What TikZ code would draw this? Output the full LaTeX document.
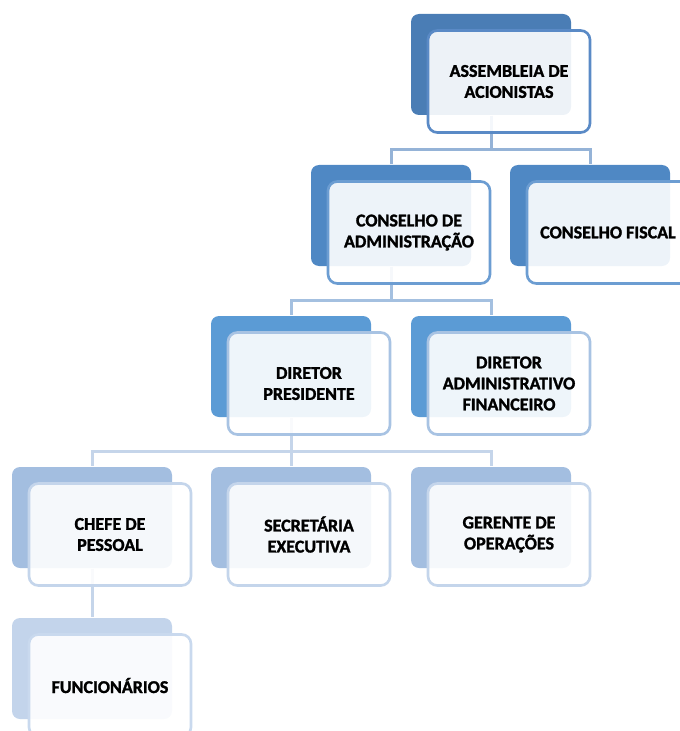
\documentclass[tikz,border=0pt]{standalone}
\usepackage{fontspec}
\setmainfont{Carlito}[BoldFont={Carlito Bold}, BoldFeatures={FakeBold=1.5}]
\usepackage{tikz}

\definecolor{backA}{HTML}{4A7DB5}
\definecolor{backB}{HTML}{4F88C4}
\definecolor{backC}{HTML}{5B9BD5}
\definecolor{backD}{HTML}{A3BEE0}
\definecolor{backE}{HTML}{C3D4EB}
\definecolor{lineA}{HTML}{5A8AC6}
\definecolor{lineB}{HTML}{6C9DD2}
\definecolor{lineC}{HTML}{A8C3E3}
\definecolor{lineD}{HTML}{C4D5EB}
\definecolor{lineE}{HTML}{C9D9EE}
\definecolor{linkA}{HTML}{95B3D7}
\definecolor{linkB}{HTML}{A4C0E0}
\definecolor{linkC}{HTML}{C5D5EA}

\tikzset{
every picture/.style={
line width=1pt
}}

\begin{document}
\begin{tikzpicture}[x=0.75pt, y=-0.75pt,
back/.style = {rectangle, rounded corners=6pt, minimum width=120pt, minimum height=75.75pt, inner sep=0pt},
front/.style = {rectangle, rounded corners=7pt, draw, line width=2pt, fill=white, fill opacity=0.9, text opacity=1, minimum width=121.5pt, minimum height=76.5pt, inner sep=0pt, align=center, font=\bfseries\fontsize{13.5}{15.75}\selectfont},
link/.style = {line width=2.25pt}]

\useasboundingbox (0,0) rectangle (680,731);
\clip (0,0) rectangle (680,731);

% back shapes
\node[back, fill=backA] (a) at (491,64.5) {};
\node[back, fill=backB] (ca) at (391,215.5) {};
\node[back, fill=backB] (cf) at (590,215.5) {};
\node[back, fill=backC] (dp) at (291,366.5) {};
\node[back, fill=backC] (da) at (491,366.5) {};
\node[back, fill=backD] (cp) at (92,517.5) {};
\node[back, fill=backD] (se) at (291,517.5) {};
\node[back, fill=backD] (go) at (491,517.5) {};
\node[back, fill=backE] (fu) at (92,668.5) {};

% links
\draw[link, linkA] (a.south) -- ++(0,34) -| (ca.north);
\draw[link, linkA] (a.south) -- ++(0,34) -| (cf.north);
\draw[link, linkB] (ca.south) -- ++(0,34) -| (dp.north);
\draw[link, linkB] (ca.south) -- ++(0,34) -| (da.north);
\draw[link, linkC] (dp.south) -- ++(0,34) -| (cp.north);
\draw[link, linkC] (dp.south) -- ++(0,34) -| (se.north);
\draw[link, linkC] (dp.south) -- ++(0,34) -| (go.north);
\draw[link, linkC] (cp.south) -- (fu.north);

% front boxes
\node[front, draw=lineA] (fa) at (509,81.5) {ASSEMBLEIA DE\\ACIONISTAS};
\node[front, draw=lineB] (fca) at (409,232.5) {CONSELHO DE\\ADMINISTRAÇÃO};
\node[front, draw=lineB] (fcf) at (608,232.5) {CONSELHO FISCAL};
\node[front, draw=lineC] (fdp) at (309,383.5) {DIRETOR\\PRESIDENTE};
\node[front, draw=lineC] (fda) at (509,383.5) {DIRETOR\\ADMINISTRATIVO\\FINANCEIRO};
\node[front, draw=lineD] (fcp) at (110,534.5) {CHEFE DE\\PESSOAL};
\node[front, draw=lineD] (fse) at (309,534.5) {SECRETÁRIA\\EXECUTIVA};
\node[front, draw=lineD] (fgo) at (509,534.5) {GERENTE DE\\OPERAÇÕES};
\node[front, draw=lineE] (ffu) at (110,685.5) {FUNCIONÁRIOS};
\end{tikzpicture}
\end{document}
